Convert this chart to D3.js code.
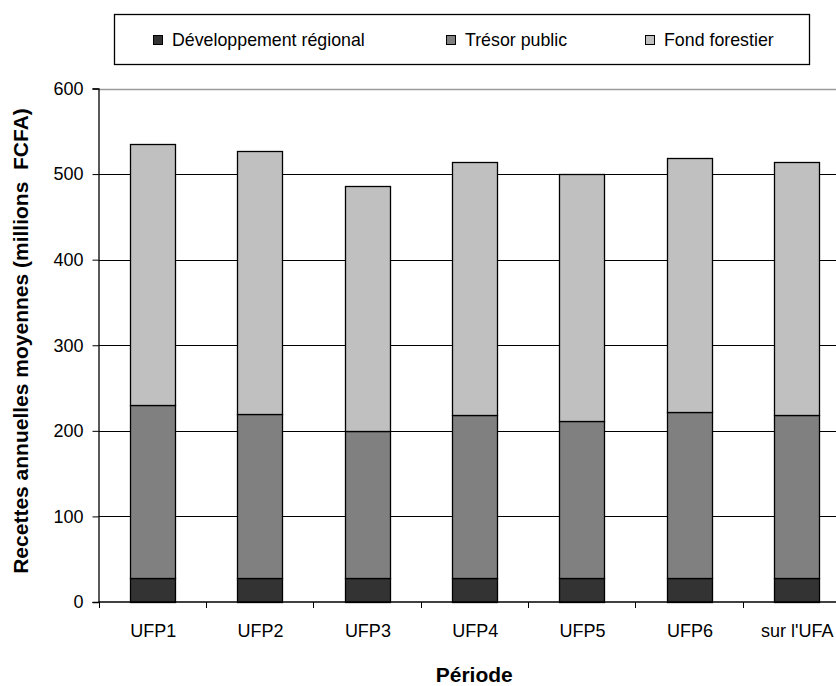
<!DOCTYPE html>
<html>
<head>
<meta charset="utf-8">
<script src="https://cdn.jsdelivr.net/npm/d3@7"></script>
<style>
html,body{margin:0;padding:0;background:#fff;overflow:hidden;}
svg{display:block;}
text{font-family:"Liberation Sans",Arial,sans-serif;fill:#000;}
</style>
</head>
<body>
<svg id="chart" width="836" height="686"></svg>
<script>
const categories = ["UFP1","UFP2","UFP3","UFP4","UFP5","UFP6","sur l'UFA"];
const seriesNames = ["Développement régional","Trésor public","Fond forestier"];
const developpement = [28, 28, 28, 28, 28, 28, 28];
const tresor = [202, 192, 172, 190, 183, 194, 190];
const fond = [305, 307, 286, 296, 289, 297, 296];
const yTicks = [0, 100, 200, 300, 400, 500, 600];
const colors = ["#333333", "#808080", "#c0c0c0"];

(function () {
const svg = d3.select("#chart");
const pL = 98.5, pR = 850, pT = 88.5, pB = 602;

const x = d3.scaleBand().domain(categories).range([pL, pR]).paddingInner(0).paddingOuter(0);
const y = d3.scaleLinear().domain([0, 600]).range([pB, pT]);

const rows = categories.map((c, i) => ({cat: c, d: developpement[i], t: tresor[i], f: fond[i]}));
const stack = d3.stack().keys(["d","t","f"])(rows);

// gridlines
svg.append("g").selectAll("line").data(yTicks.filter(v => v > 0)).join("line")
  .attr("x1", pL).attr("x2", pR)
  .attr("y1", d => Math.round(y(d)) + 0.5).attr("y2", d => Math.round(y(d)) + 0.5)
  .attr("stroke", d => d === 600 ? "#9a9a9a" : "#000")
  .attr("stroke-width", d => d === 600 ? 1.5 : 1);

// bars
const bw = x.bandwidth() * 0.415;
svg.append("g").selectAll("g").data(stack).join("g")
  .attr("fill", (d, i) => colors[i])
  .selectAll("rect").data(d => d).join("rect")
  .attr("x", d => Math.round(x(d.data.cat) + (x.bandwidth() - bw) / 2) + 0.5)
  .attr("width", Math.round(bw))
  .attr("y", d => Math.round(y(d[1])) + 0.5)
  .attr("height", d => Math.round(y(d[0])) - Math.round(y(d[1])))
  .attr("stroke", "#000").attr("stroke-width", 1.3);

// y axis
const yAxis = svg.append("g").attr("transform", `translate(${pL},0)`)
  .call(d3.axisLeft(y).tickValues(yTicks).tickSize(6).tickPadding(9));
yAxis.select(".domain").attr("stroke", "#000").attr("stroke-width", 1.3);
yAxis.selectAll(".tick line").attr("stroke", "#000");
yAxis.selectAll(".tick text").style("font-size", "18px").style("font-family", '"Liberation Sans", Arial, sans-serif').attr("fill", "#000");

// x axis: ticks at band boundaries
const xAxisG = svg.append("g").attr("transform", `translate(0,${pB})`);
xAxisG.append("line").attr("x1", pL).attr("x2", pR).attr("stroke", "#000").attr("stroke-width", 1.3);
const boundaries = categories.map(c => x(c)).concat([pR]);
xAxisG.selectAll("line.tk").data(boundaries).join("line").attr("class", "tk")
  .attr("x1", d => Math.round(d) + 0.5).attr("x2", d => Math.round(d) + 0.5)
  .attr("y1", 0).attr("y2", 6).attr("stroke", "#000");
xAxisG.selectAll("text").data(categories).join("text")
  .attr("x", d => x(d) + x.bandwidth() / 2 + 1)
  .attr("y", 35)
  .attr("text-anchor", "middle")
  .style("font-size", "18px")
  .text(d => d);

// axis titles
svg.append("text")
  .attr("transform", `translate(28,341) rotate(-90)`)
  .attr("text-anchor", "middle")
  .style("font-size", "21px").style("font-weight", "bold")
  .text("Recettes annuelles moyennes (millions\u00a0\u00a0FCFA)");
svg.append("text")
  .attr("x", (pL + pR) / 2).attr("y", 681.5)
  .attr("text-anchor", "middle")
  .style("font-size", "21px").style("font-weight", "bold")
  .text("Période");

// legend
const lg = svg.append("g");
lg.append("rect").attr("x", 114.5).attr("y", 14.5).attr("width", 695).attr("height", 50)
  .attr("fill", "#fff").attr("stroke", "#000").attr("stroke-width", 1.3);
const legX = [153, 446, 645];
const items = lg.selectAll("g").data(seriesNames).join("g")
  .attr("transform", (d, i) => `translate(${legX[i]},0)`);
items.append("rect").attr("x", 0.5).attr("y", 35.5).attr("width", 9).attr("height", 9)
  .attr("fill", (d, i) => colors[i]).attr("stroke", "#000").attr("stroke-width", 1);
items.append("text").attr("x", 19).attr("y", 45.5).style("font-size", "17.8px").text(d => d);
})();
</script>
</body>
</html>
